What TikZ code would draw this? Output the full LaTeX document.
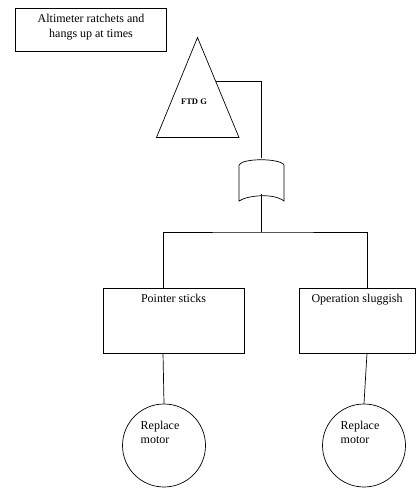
\documentclass[tikz,border=0pt]{standalone}
\usepackage{fontspec}
\setmainfont{Liberation Serif}
\usetikzlibrary{calc}
\begin{document}
\begin{tikzpicture}[x=1pt,y=-1pt,
  line width=0.7pt,
  box/.style={draw, rectangle, inner sep=0pt},
  basic/.style={draw, circle, inner sep=0pt, minimum size=83pt},
  lbl/.style={font=\fontsize{12}{15}\selectfont, align=center}]
\useasboundingbox (0,0) rectangle (417,490);
% top event
\node[box, minimum width=151pt, minimum height=43pt] (top) at (91,29.5) {};
\node[lbl] (toptext) at (91,27.5) {Altimeter ratchets and\\hangs up at times};
% transfer triangle
\coordinate (apex) at (197.5,37.5);
\coordinate (bl) at (156.5,137.5);
\coordinate (br) at (239,137.5);
\draw (apex) -- (bl) -- (br) -- cycle;
\node[font=\fontsize{8.5}{10}\selectfont\bfseries] (ftd) at (194,102) {FTD G};
\coordinate (tside) at ($(apex)!0.44!(br)$);
% gate
\coordinate (gtop) at (261,158);
\coordinate (gbot) at (261,194);
\draw (239,165) -- (239,201) .. controls (248,195) and (274,193) .. (284,201) -- (284,165)
      .. controls (280,158) and (242,158) .. (239,165);
% boxes
\node[box, minimum width=141pt, minimum height=65pt] (ps) at (173.5,320.5) {};
\node[lbl, anchor=north] (pst) at (173.5,290) {Pointer sticks};
\node[box, minimum width=116pt, minimum height=65pt] (os) at (357,320.5) {};
\node[lbl, anchor=north] (ost) at (357,290) {Operation sluggish};
% circles
\node[basic] (c1) at (164,445.5) {};
\node[basic] (c2) at (364,445.5) {};
\node[lbl, align=left, anchor=north west, font=\fontsize{12}{14}\selectfont] (c1t) at (137,417) {Replace\\motor};
\node[lbl, align=left, anchor=north west, font=\fontsize{12}{14}\selectfont] (c2t) at (337,417) {Replace\\motor};
% connection points
\coordinate (bus) at (261,232);
\coordinate (psin) at (163,288);
\coordinate (osin) at (367,288);
\coordinate (psout) at (163,353);
\coordinate (osout) at (367,353);
% connectors
\draw (tside) -| (gtop);
\draw (gbot) -- (bus);
\draw (psin) |- (bus) -| (osin);
\draw (psout) -- (c1.north);
\draw (osout) -- (c2.north);
\end{tikzpicture}
\end{document}
